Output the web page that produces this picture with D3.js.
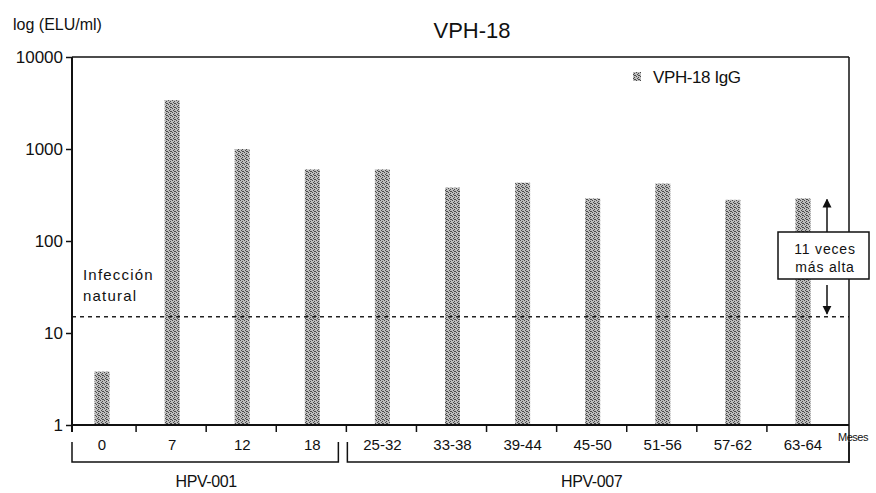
<!DOCTYPE html>
<html>
<head>
<meta charset="utf-8">
<script src="https://cdn.jsdelivr.net/npm/d3@7"></script>
<style>
  body { margin: 0; background: #fff; }
  text { font-family: "Liberation Sans", Arial, sans-serif; fill: #111; }
</style>
</head>
<body>
<div id="chart"></div>
<script>
const categories = ["0", "7", "12", "18", "25-32", "33-38", "39-44", "45-50", "51-56", "57-62", "63-64"],
    igG = [3.8, 3400, 1000, 600, 600, 380, 430, 290, 420, 280, 290],
    yTicks = [1, 10, 100, 1000, 10000],
    naturalLevel = 15,
    studyNames = ["HPV-001", "HPV-007"],
    studyFirst = [0, 4],
    studyLast = [3, 10];

const W = 876, H = 493,
    plot = {left: 72, right: 849, top: 57, bottom: 425};

const svg = d3.select("#chart").append("svg")
    .attr("width", W)
    .attr("height", H);

// stippled grey fill, like the scanned bars
const defs = svg.append("defs");
const pat = defs.append("pattern")
    .attr("id", "stipple")
    .attr("patternUnits", "userSpaceOnUse")
    .attr("width", 4).attr("height", 4);
pat.append("rect").attr("width", 4).attr("height", 4).attr("fill", "#bdbdbd");
[[0, 0], [2, 1], [1, 2], [3, 3], [2, 3]].forEach(p => {
    pat.append("rect").attr("x", p[0]).attr("y", p[1]).attr("width", 1).attr("height", 1).attr("fill", "#4a4a4a");
});

const x = d3.scaleBand()
    .domain(categories)
    .range([66, 837])
    .padding(0);

const y = d3.scaleLog()
    .domain([1, 10000])
    .range([plot.bottom, plot.top]);

const barW = 15;

// title and axis title
svg.append("text")
    .attr("x", 472).attr("y", 38)
    .attr("text-anchor", "middle")
    .style("font-size", "22px")
    .text("VPH-18");

svg.append("text")
    .attr("x", 13).attr("y", 30)
    .style("font-size", "16px")
    .text("log (ELU/ml)");

// bars
svg.append("g").selectAll("rect")
    .data(igG)
    .enter().append("rect")
    .attr("x", (d, i) => x(categories[i]) + x.bandwidth() / 2 - barW / 2 + 1)
    .attr("width", barW)
    .attr("y", d => y(d))
    .attr("height", d => y(1) - y(d))
    .attr("fill", "url(#stipple)");

// natural infection line
svg.append("line")
    .attr("x1", plot.left).attr("x2", plot.right)
    .attr("y1", y(naturalLevel)).attr("y2", y(naturalLevel))
    .attr("stroke", "#222")
    .attr("stroke-width", 1.5)
    .attr("stroke-dasharray", "4,4");

const infText = svg.append("text")
    .style("font-size", "15px")
    .style("letter-spacing", "1.2px");
infText.append("tspan").attr("x", 83).attr("y", 280).text("Infección");
infText.append("tspan").attr("x", 83).attr("y", 301).text("natural");

// y axis
const yAxis = svg.append("g")
    .attr("transform", "translate(" + plot.left + ",0)")
    .call(d3.axisLeft(y).tickValues(yTicks).tickFormat(d3.format("d")).tickSize(6).tickPadding(3));
yAxis.select(".domain").remove();
yAxis.selectAll("line").attr("stroke", "#111").attr("stroke-width", 1.5);
yAxis.selectAll("text")
    .style("font-size", "17px")
    .style("font-family", "Liberation Sans, Arial, sans-serif")
    .attr("fill", "#111");

// frame
svg.append("line")
    .attr("x1", plot.left).attr("x2", plot.left)
    .attr("y1", plot.top).attr("y2", plot.bottom + 7)
    .attr("stroke", "#111").attr("stroke-width", 2);
svg.append("line")
    .attr("x1", plot.left).attr("x2", plot.right)
    .attr("y1", plot.top).attr("y2", plot.top)
    .attr("stroke", "#111").attr("stroke-width", 1.5);
svg.append("line")
    .attr("x1", plot.right).attr("x2", plot.right)
    .attr("y1", plot.top).attr("y2", 463)
    .attr("stroke", "#111").attr("stroke-width", 1.5);
svg.append("line")
    .attr("x1", plot.left).attr("x2", plot.right)
    .attr("y1", plot.bottom).attr("y2", plot.bottom)
    .attr("stroke", "#111").attr("stroke-width", 2);

// x ticks between bands
svg.append("g").selectAll("line")
    .data(categories.slice(1))
    .enter().append("line")
    .attr("x1", d => x(d)).attr("x2", d => x(d))
    .attr("y1", plot.bottom).attr("y2", plot.bottom + 7)
    .attr("stroke", "#111").attr("stroke-width", 1.5);

svg.append("g").selectAll("text")
    .data(categories)
    .enter().append("text")
    .attr("x", d => x(d) + x.bandwidth() / 2 + 1)
    .attr("y", 450)
    .attr("text-anchor", "middle")
    .style("font-size", "15px")
    .text(d => d);

svg.append("text")
    .attr("x", 838).attr("y", 441)
    .style("font-size", "11px")
    .style("letter-spacing", "-0.5px")
    .text("Meses");

// study brackets
studyNames.forEach((name, i) => {
    const x0 = i === 0 ? plot.left : x(categories[studyFirst[i]]) + 1;
    const x1 = i === studyNames.length - 1 ? plot.right : x(categories[studyLast[i]]) + x.step() - 8;
    svg.append("path")
        .attr("d", "M" + x0 + ",442V462H" + x1 + "V442")
        .attr("fill", "none")
        .attr("stroke", "#111")
        .attr("stroke-width", 1.5);
    const mid = (x(categories[studyFirst[i]]) + x(categories[studyLast[i]]) + x.step()) / 2;
    svg.append("text")
        .attr("x", mid)
        .attr("y", 487)
        .attr("text-anchor", "middle")
        .style("font-size", "16px")
        .style("letter-spacing", "-0.4px")
        .text(name);
});

// legend
svg.append("rect")
    .attr("x", 633).attr("y", 72)
    .attr("width", 8).attr("height", 9)
    .attr("fill", "url(#stipple)");
svg.append("text")
    .attr("x", 653).attr("y", 83)
    .style("font-size", "17px")
    .style("letter-spacing", "-0.4px")
    .text("VPH-18 IgG");

// "11 veces" annotation between natural level and last bar
const lastVal = igG[igG.length - 1];
const ax = 827;
const boxTop = 232, boxBottom = 279;
defs.append("marker")
    .attr("id", "arrow")
    .attr("viewBox", "0 0 10 10")
    .attr("refX", 9).attr("refY", 5)
    .attr("markerWidth", 6).attr("markerHeight", 8)
    .attr("orient", "auto")
    .append("path")
    .attr("d", "M0,0L10,5L0,10z")
    .attr("fill", "#111");

svg.append("line")
    .attr("x1", ax).attr("x2", ax)
    .attr("y1", boxTop).attr("y2", y(lastVal) + 1)
    .attr("stroke", "#111").attr("stroke-width", 1.5)
    .attr("marker-end", "url(#arrow)");
svg.append("line")
    .attr("x1", ax).attr("x2", ax)
    .attr("y1", boxBottom + 6).attr("y2", y(naturalLevel) - 3)
    .attr("stroke", "#111").attr("stroke-width", 1.5)
    .attr("marker-end", "url(#arrow)");

svg.append("rect")
    .attr("x", 778).attr("y", boxTop)
    .attr("width", 91).attr("height", boxBottom - boxTop)
    .attr("fill", "#fff")
    .attr("stroke", "#111")
    .attr("stroke-width", 1.5);

const boxText = svg.append("text")
    .attr("text-anchor", "middle")
    .style("font-size", "14px")
    .style("letter-spacing", "0.8px");
boxText.append("tspan").attr("x", 825).attr("y", 254).text("11 veces");
boxText.append("tspan").attr("x", 825).attr("y", 272).text("más alta");
</script>
</body>
</html>
